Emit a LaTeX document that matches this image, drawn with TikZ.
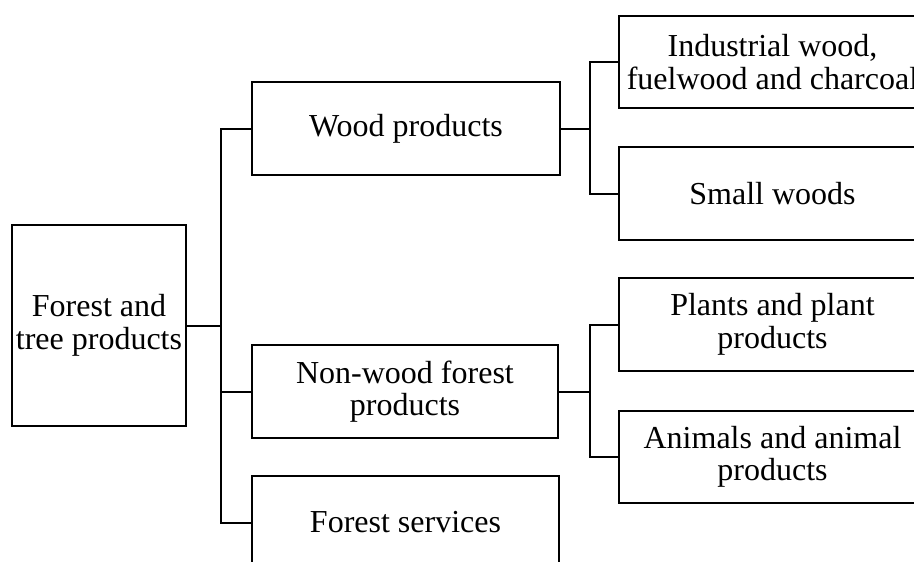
\documentclass[tikz,border=0pt]{standalone}
\usepackage{fontspec}
\setmainfont{Liberation Serif}
\begin{document}
\begin{tikzpicture}[x=1pt,y=-1pt,
  box/.style={draw,line width=2pt,align=center,inner sep=0pt,font=\fontsize{32}{32.5}\selectfont},
  conn/.style={draw,line width=2pt}]
\useasboundingbox (0,0) rectangle (914,562);
\clip (0,0) rectangle (914,562);
\node[box,minimum width=174pt,minimum height=201pt] (root) at (99,325.5) {Forest and\\tree products};
\node[box,minimum width=308pt,minimum height=93pt] (wood) at (406,128.5) {Wood products};
\node[box,minimum width=306pt,minimum height=93pt] (nonwood) at (405,391.5) {Non-wood forest\\products};
\node[box,minimum width=307pt,minimum height=93pt] (services) at (405.5,522.5) {Forest services};
\node[box,minimum width=307pt,minimum height=92pt] (ind) at (772.5,62) {Industrial wood,\\fuelwood and charcoal};
\node[box,minimum width=307pt,minimum height=93pt] (small) at (772.5,193.5) {Small woods};
\node[box,minimum width=307pt,minimum height=93pt] (plants) at (772.5,324.5) {Plants and plant\\products};
\node[box,minimum width=307pt,minimum height=92pt] (animals) at (772.5,457) {Animals and animal\\products};
\coordinate (t1) at (221,0);
\coordinate (t2) at (590,0);
\draw[conn] (wood.west) -| (t1 |- services.west) -- (services.west);
\draw[conn] (root.east) -- (t1 |- root.east);
\draw[conn] (nonwood.west) -- (t1 |- nonwood.west);
\draw[conn] (ind.west) -| (t2 |- small.west) -- (small.west);
\draw[conn] (wood.east) -- (t2 |- wood.east);
\draw[conn] (plants.west) -| (t2 |- animals.west) -- (animals.west);
\draw[conn] (nonwood.east) -- (t2 |- nonwood.east);
\end{tikzpicture}
\end{document}
